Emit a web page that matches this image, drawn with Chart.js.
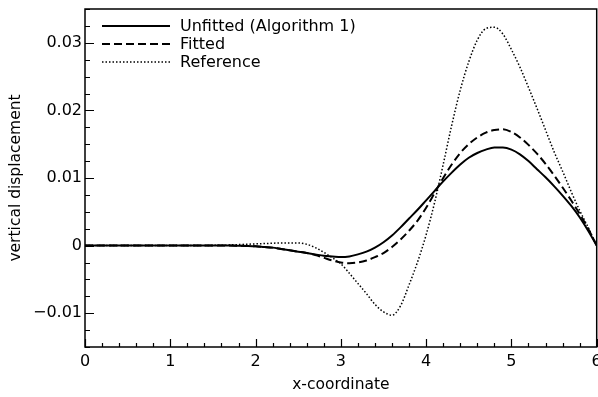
<!DOCTYPE html>
<html>
<head>
<meta charset="utf-8">
<title>vertical displacement</title>
<script src="https://cdn.jsdelivr.net/npm/chart.js@4.4.1/dist/chart.umd.min.js"></script>
<style>
  html, body { margin: 0; padding: 0; background: #fff; }
  canvas { display: block; }
</style>
</head>
<body>
<canvas id="chart_1" width="598" height="397"></canvas>
<script>
// x positions along the beam (step 0.1)
var xValues = [];
for (var i = 0; i <= 60; i++) xValues.push(i / 10);

// Unfitted (Algorithm 1)
var unfitted = [
  0, 0, 0, 0, 0, 0, 0, 0, 0, 0,
  0, 0, 0, 0, 0, 0, 0, 0, -0.00002, -0.00005,
  -0.0001, -0.0002, -0.0003, -0.0005, -0.0007, -0.0009, -0.0011, -0.0013, -0.0015, -0.0016,
  -0.0017, -0.0016, -0.0013, -0.0009, -0.0003, 0.0005, 0.0015, 0.0027, 0.0040, 0.0053,
  0.0067, 0.0081, 0.0095, 0.0108, 0.0120, 0.0130, 0.0137, 0.0142, 0.0145, 0.0145,
  0.0142, 0.0135, 0.0125, 0.0113, 0.0101, 0.0088, 0.0074, 0.0059, 0.0042, 0.0022,
  0
];

// Fitted
var fitted = [
  0, 0, 0, 0, 0, 0, 0, 0, 0, 0,
  0, 0, 0, 0, 0, 0, 0, 0, -0.00002, -0.00005,
  -0.0001, -0.0002, -0.0003, -0.0005, -0.0007, -0.0009, -0.0011, -0.0014, -0.0018, -0.0022,
  -0.0025, -0.0026, -0.0025, -0.0022, -0.0017, -0.0011, -0.0002, 0.0009, 0.0022, 0.0037,
  0.0056, 0.0078, 0.0100, 0.0120, 0.0137, 0.0150, 0.0160, 0.0167, 0.0171, 0.0172,
  0.0168, 0.0160, 0.0149, 0.0136, 0.0121, 0.0104, 0.0086, 0.0067, 0.0047, 0.0025,
  0
];

// Reference
var reference = [
  0, 0, 0, 0, 0, 0, 0, 0, 0, 0,
  0, 0, 0, 0, 0, 0.00003, 0.00005, 0.0001, 0.00015, 0.0002,
  0.00025, 0.0003, 0.00035, 0.0004, 0.0004, 0.0004, 0.0002, -0.0003, -0.0010, -0.0018,
  -0.0027, -0.0041, -0.0056, -0.0071, -0.0087, -0.0098, -0.0103, -0.0089, -0.0058, -0.0024,
  0.0016, 0.0064, 0.0120, 0.0178, 0.0230, 0.0272, 0.0304, 0.0321, 0.0323, 0.0313,
  0.0290, 0.0264, 0.0234, 0.0203, 0.0171, 0.0139, 0.0110, 0.0080, 0.0052, 0.0027,
  0
];

var xMin = 0, xMax = 6;
var yMin = -0.015, yMax = 0.035;

function pts(ys) {
  return xValues.map(function (x, i) { return { x: x, y: ys[i] }; });
}

function isMultiple(v, step) {
  var r = v / step;
  return Math.abs(r - Math.round(r)) < 1e-6;
}

var FONT = "'DejaVu Sans', sans-serif";

// inward tick marks + frame round the plot area
var frameTicks = {
  id: "frameTicks",
  afterDatasetsDraw: function (chart) {
    var ctx = chart.ctx;
    var a = chart.chartArea;
    var xs = chart.scales.x, ys = chart.scales.y;
    ctx.save();
    ctx.strokeStyle = "#000";
    ctx.lineWidth = 1.2;
    ctx.beginPath();
    xs.ticks.forEach(function (t) {
      var px = Math.round(xs.getPixelForValue(t.value)) + 0.5;
      var len = isMultiple(t.value, 1) ? 8 : 4;
      ctx.moveTo(px, a.bottom);
      ctx.lineTo(px, a.bottom - len);
    });
    ys.ticks.forEach(function (t) {
      var py = Math.round(ys.getPixelForValue(t.value)) + 0.5;
      var len = isMultiple(t.value, 0.01) ? 9 : 5;
      ctx.moveTo(a.left, py);
      ctx.lineTo(a.left + len, py);
    });
    ctx.stroke();
    ctx.lineWidth = 1.5;
    ctx.strokeRect(a.left, a.top, a.right - a.left, a.bottom - a.top);
    ctx.restore();
  }
};

// legend drawn inside the top-left corner
var innerLegend = {
  id: "innerLegend",
  afterDatasetsDraw: function (chart) {
    var ctx = chart.ctx;
    ctx.save();
    ctx.font = "16px " + FONT;
    ctx.textBaseline = "middle";
    ctx.fillStyle = "#000";
    chart.data.datasets.forEach(function (ds, i) {
      var y = 26 + i * 18;
      ctx.beginPath();
      ctx.strokeStyle = "#000";
      ctx.lineWidth = ds.borderWidth;
      ctx.setLineDash(ds.borderDash || []);
      ctx.moveTo(102, y);
      ctx.lineTo(170, y);
      ctx.stroke();
      ctx.setLineDash([]);
      ctx.fillText(ds.label, 180, y + 1);
    });
    ctx.restore();
  }
};

new Chart(document.getElementById("chart_1"), {
  type: "line",
  data: {
    datasets: [
      {
        label: "Unfitted (Algorithm 1)",
        data: pts(unfitted),
        borderColor: "#000",
        borderWidth: 2,
        pointRadius: 0,
        cubicInterpolationMode: "monotone",
      },
      {
        label: "Fitted",
        data: pts(fitted),
        borderColor: "#000",
        borderWidth: 2,
        borderDash: [8, 4],
        pointRadius: 0,
        cubicInterpolationMode: "monotone",
      },
      {
        label: "Reference",
        data: pts(reference),
        borderColor: "#000",
        borderWidth: 1.5,
        borderDash: [1.5, 2],
        pointRadius: 0,
        cubicInterpolationMode: "monotone",
      },
    ],
  },
  options: {
    responsive: false,
    animation: false,
    devicePixelRatio: 1,
    layout: { padding: { top: 9, right: 1.3, left: 0, bottom: 0 } },
    plugins: {
      legend: { display: false },
      tooltip: { enabled: false },
    },
    scales: {
      x: {
        type: "linear",
        min: xMin,
        max: xMax,
        afterFit: function (scale) {
          scale.height = 50;
          scale.paddingLeft = 0;
          scale.paddingRight = 0;
        },
        border: { display: false },
        grid: { display: false, drawTicks: false },
        ticks: {
          stepSize: 0.2,
          autoSkip: false,
          maxRotation: 0,
          padding: 5,
          color: "#000",
          font: { family: FONT, size: 16 },
          callback: function (v) {
            return isMultiple(v, 1) ? String(Math.round(v)) : "";
          },
        },
        title: {
          display: true,
          text: "x-coordinate",
          color: "#000",
          font: { family: FONT, size: 15.5 },
          padding: { top: 0, bottom: 3 },
        },
      },
      y: {
        type: "linear",
        min: yMin,
        max: yMax,
        afterFit: function (scale) {
          scale.width = 85;
          scale.paddingTop = 0;
          scale.paddingBottom = 0;
        },
        border: { display: false },
        grid: { display: false, drawTicks: false },
        ticks: {
          stepSize: 0.0025,
          autoSkip: false,
          padding: 3,
          color: "#000",
          font: { family: FONT, size: 16 },
          callback: function (v) {
            if (!isMultiple(v, 0.01)) return "";
            var n = Math.round(v / 0.01);
            if (n === 0) return "0";
            var s = (Math.abs(n) / 100).toFixed(2);
            return n < 0 ? "\u2212" + s : s;
          },
        },
        title: {
          display: true,
          text: "vertical displacement",
          color: "#000",
          font: { family: FONT, size: 15.5 },
          padding: { top: 7, bottom: 0 },
        },
      },
    },
  },
  plugins: [frameTicks, innerLegend],
});
</script>
</body>
</html>
